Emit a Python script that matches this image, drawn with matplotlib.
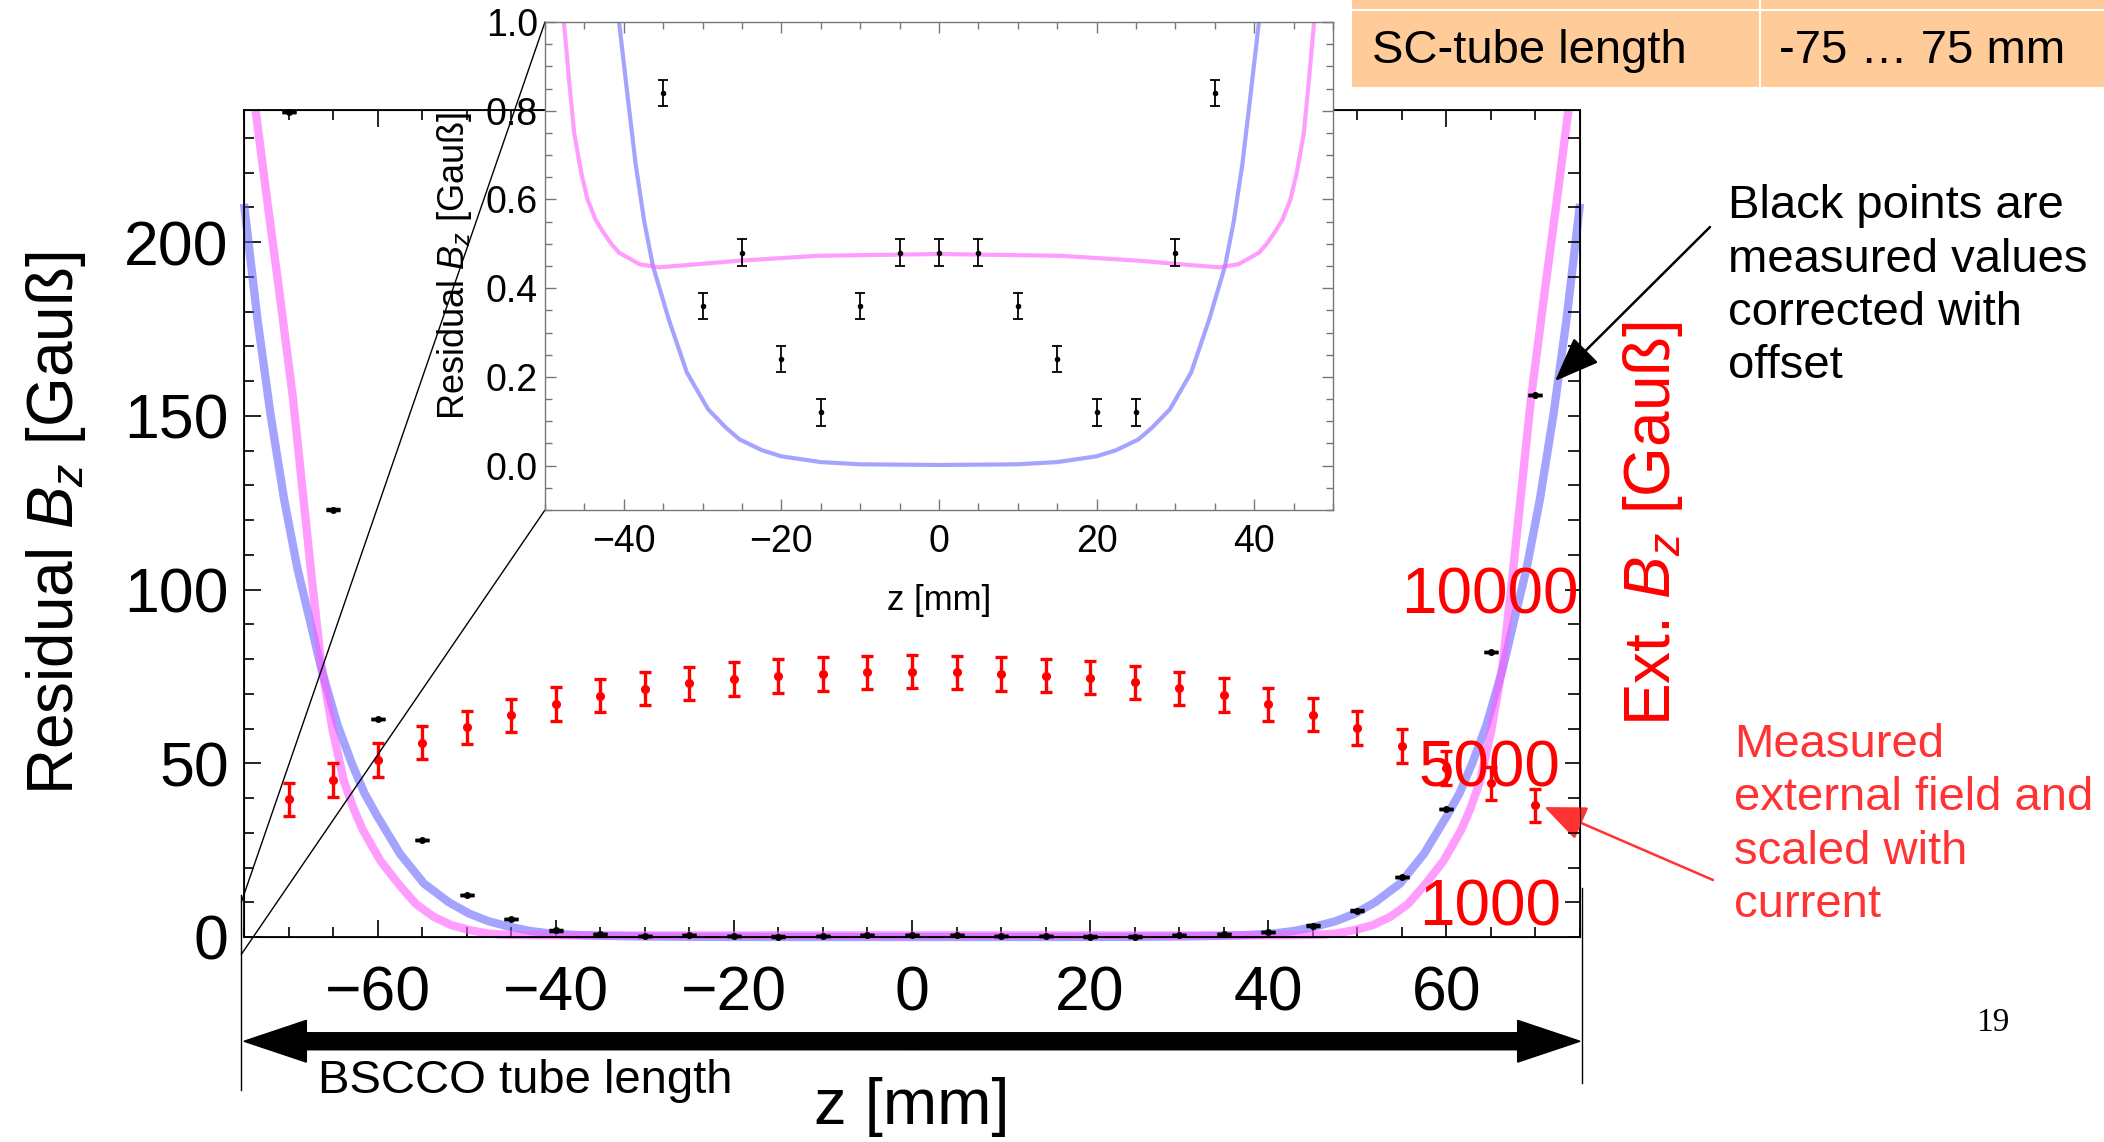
#!/usr/bin/env python
import matplotlib
matplotlib.use("Agg")
import matplotlib.pyplot as plt
from matplotlib.lines import Line2D
from matplotlib.patches import Rectangle, FancyArrow, ConnectionPatch
from matplotlib.ticker import MultipleLocator

plt.rcParams["font.family"] = ["Liberation Sans", "DejaVu Sans"]
plt.rcParams["mathtext.fontset"] = "custom"
plt.rcParams["mathtext.rm"] = "Liberation Sans"
plt.rcParams["mathtext.it"] = "Liberation Sans:italic"

# measured residual Bz (black points) [Gauss]
z_meas = [-70, -65, -60, -55, -50, -45, -40, -35, -30, -25, -20, -15, -10, -5, 0,
          5, 10, 15, 20, 25, 30, 35, 40, 45, 50, 55, 60, 65, 70]
res_bz = [237.5, 123.0, 62.7, 27.9, 12.0, 5.1, 1.9, 0.84, 0.36, 0.48, 0.24, 0.12, 0.36, 0.48, 0.48,
          0.48, 0.36, 0.24, 0.12, 0.12, 0.48, 0.84, 1.4, 3.3, 7.6, 17.3, 36.8, 82.0, 156.0]
res_err = 0.03

# measured external field scaled with current (red points) [Gauss]
ext_bz = [3960, 4520, 5090, 5590, 6030, 6380, 6710, 6950, 7150, 7300, 7430, 7510, 7570, 7620, 7640,
          7620, 7570, 7520, 7460, 7330, 7160, 6960, 6700, 6400, 6010, 5500, 4860, 4420, 3790]
ext_err = 480

# model curves
z_blue = [-75, -73.5, -72, -70.5, -69, -67.5, -66.3, -64.5, -62.9, -61.5, -60, -57.5, -54.8, -52,
          -49.7, -47.5, -45.1, -42.8, -40.6, -39.5, -38.5, -37.4, -36.3, -34.3, -32, -29.3, -27,
          -25.3, -22.5, -20, -15, -10, 0, 10, 15, 20, 22.5, 25.3, 27, 29.3, 32, 34.3, 36.3, 37.4,
          38.5, 39.5, 40.6, 42.8, 45.1, 47.5, 49.7, 52, 54.8, 57.5, 60, 61.5, 62.9, 64.5, 66.3,
          67.5, 69, 70.5, 72, 73.5, 75]
blue_bz = [211, 178, 150, 126, 106, 90, 77, 61, 50, 41.5, 34.6, 24, 15.4, 10,
           6.7, 4.5, 2.9, 1.7, 1.0, 0.83, 0.68, 0.55, 0.45, 0.33, 0.21, 0.127, 0.085,
           0.059, 0.035, 0.021, 0.008, 0.003, 0.0015, 0.003, 0.008, 0.021, 0.035, 0.059, 0.085,
           0.127, 0.21, 0.33, 0.45, 0.55,
           0.68, 0.83, 1.0, 1.7, 2.9, 4.5, 6.7, 10, 15.4, 24, 34.6, 41.5, 50, 61, 77,
           90, 106, 126, 150, 178, 211]

z_mag = [-73.7, -72.5, -71, -69.5, -68.4, -67.3, -66.3, -65, -63.8, -62.7, -61.7, -59.7, -57.7,
         -55.7, -53.7, -51.7, -49.7, -48.6, -47.6, -46.9, -46.3, -45.4, -44.6, -43.6, -42.6,
         -41.6, -40.6, -38.0, -35.6, -32, -25.3, -15.4, 0, 15.4, 25.3, 32, 35.6, 38.0, 40.6,
         41.6, 42.6, 43.6, 44.6, 45.4, 46.3, 46.9, 47.6, 48.6, 49.7, 51.7, 53.7, 55.7, 57.7,
         59.7, 61.7, 62.7, 63.8, 65, 66.3, 67.3, 68.4, 69.5, 71, 72.5, 73.7]
mag_bz = [238, 214, 185, 155, 128, 101, 78, 59, 45, 37, 31, 22, 15.4,
          9.5, 5.8, 3.4, 2.0, 1.45, 1.0, 0.86, 0.75, 0.66, 0.60, 0.555, 0.526,
          0.50, 0.48, 0.454, 0.447, 0.452, 0.462, 0.473, 0.477, 0.473, 0.462, 0.452, 0.447, 0.454,
          0.48, 0.50, 0.526, 0.555, 0.60, 0.66, 0.75, 0.86, 1.0, 1.45, 2.0, 3.4, 5.8, 9.5, 15.4,
          22, 31, 37, 45, 59, 78, 101, 128, 155, 185, 214, 238]

tube_ends = [-75, 75]

W, H = 2104, 1142
BLUE = "#5a5aff"
MAGENTA = "#ff5cff"


def fx(px):
    return px / W


def fy(py):
    return 1 - py / H


fig = plt.figure(figsize=(W / 100, H / 100), dpi=100)
fig.patch.set_facecolor("white")

# ---- main axes
ax = fig.add_axes([fx(244), fy(937), (1580 - 244) / W, (937 - 110) / H])
ax.plot(z_blue, blue_bz, color=BLUE, alpha=0.55, lw=6, solid_capstyle="butt", clip_on=False, zorder=2)
ax.plot(z_mag, mag_bz, color=MAGENTA, alpha=0.6, lw=6, solid_capstyle="butt", clip_on=False, zorder=2)
ax.errorbar(z_meas, res_bz, yerr=res_err, fmt="o", color="k", ms=4, capsize=5, capthick=2.5,
            elinewidth=1.5, clip_on=False, zorder=4)
ax.set_xlim(-75, 75)
ax.set_ylim(0, 238)
ax.xaxis.set_major_locator(MultipleLocator(20))
ax.xaxis.set_minor_locator(MultipleLocator(5))
ax.yaxis.set_major_locator(MultipleLocator(50))
ax.yaxis.set_minor_locator(MultipleLocator(10))
ax.tick_params(which="both", direction="in", top=True, right=False, width=1.2, color="k")
ax.tick_params(which="major", length=12)
ax.tick_params(which="minor", length=7)
ax.tick_params(axis="x", labelsize=45, pad=20)
ax.tick_params(axis="y", labelsize=45, pad=11)
for s in ax.spines.values():
    s.set_linewidth(1.3)

ax.text(-0.141, 0.5, "Residual $B_z$ [Gauß]", rotation=90, fontsize=46,
        ha="center", va="center", transform=ax.transAxes)
ax.text(0.5, -0.206, "z [mm]", fontsize=47, ha="center", va="center", transform=ax.transAxes)

# ---- right axis (external field)
ax2 = ax.twinx()
ax2.set_ylim(0, 23800)
ax2.errorbar(z_meas, ext_bz, yerr=ext_err, fmt="o", color="red", ms=5.5, capsize=4.2, capthick=2.4,
             elinewidth=2.4, zorder=5)
ax2.set_yticks([1000, 5000, 10000])
ax2.set_yticklabels(["1000", "5000", "10000"])
ax2.yaxis.set_minor_locator(MultipleLocator(1000))
ax2.tick_params(axis="y", which="both", direction="in", width=1.2, color="k",
                labelcolor="red", labelsize=46, pad=-65)
ax2.tick_params(axis="y", which="major", length=11)
ax2.tick_params(axis="y", which="minor", length=9)
for lbl in ax2.get_yticklabels():
    lbl.set_horizontalalignment("center")
ax2.text(1.055, 0.5, "Ext. $B_z$ [Gauß]", rotation=90, fontsize=46, color="red",
         ha="center", va="center", transform=ax.transAxes)

# ---- tube length arrow below the axis
zl, zr = tube_ends
for ze in tube_ends:
    ax.add_patch(FancyArrow(0, -30, ze, 0, width=4.9, head_width=12, head_length=7,
                            length_includes_head=True, color="k", clip_on=False, zorder=6))
ax.plot([zl - 0.3, zl - 0.3], [12, -44], color="k", lw=1, clip_on=False)
ax.plot([zr + 0.2, zr + 0.2], [14, -42], color="k", lw=1, clip_on=False)
ax.text(-66.7, -45, "BSCCO tube length", fontsize=34, ha="left", va="baseline")

# ---- inset
axin = fig.add_axes([fx(545), fy(510), (1333 - 545) / W, (510 - 22) / H])
axin.set_zorder(3)
axin.plot(z_blue, blue_bz, color=BLUE, alpha=0.55, lw=3)
axin.plot(z_mag, mag_bz, color=MAGENTA, alpha=0.6, lw=3)
axin.errorbar(z_meas, res_bz, yerr=res_err, fmt="o", color="k", ms=3, capsize=3.5, capthick=1.3,
              elinewidth=1.3)
axin.set_xlim(-50, 50)
axin.set_ylim(-0.1, 1.0)
axin.xaxis.set_major_locator(MultipleLocator(20))
axin.xaxis.set_minor_locator(MultipleLocator(5))
axin.yaxis.set_major_locator(MultipleLocator(0.2))
axin.yaxis.set_minor_locator(MultipleLocator(0.05))
axin.tick_params(which="both", direction="in", top=True, right=True, color="#777777", width=1)
axin.tick_params(which="major", length=8)
axin.tick_params(which="minor", length=5)
axin.tick_params(axis="x", labelsize=27, pad=10)
axin.tick_params(axis="y", labelsize=27, pad=5)
for s in axin.spines.values():
    s.set_color("#777777")
    s.set_linewidth(1)
axin.text(-0.115, 0.5, "Residual $B_z$ [Gauß]", rotation=90, fontsize=26,
          ha="center", va="center", transform=axin.transAxes)
axin.text(0.5, -0.185, "z [mm]", fontsize=25, ha="center", va="center", transform=axin.transAxes)

# zoom connector lines
for ya, yb in [(10, 1.0), (-5, -0.1)]:
    con = ConnectionPatch(xyA=(zl - 0.3, ya), coordsA=ax.transData, xyB=(-50, yb),
                          coordsB=axin.transData, color="k", lw=1)
    fig.add_artist(con)

# ---- table cell top right
fig.add_artist(Rectangle((fx(1352), fy(87)), (W - 1352) / W, 87 / H, transform=fig.transFigure,
                         facecolor="#ffcc99", edgecolor="none"))
fig.add_artist(Line2D([fx(1760), fx(1760)], [fy(0), fy(87)], transform=fig.transFigure,
                      color="white", lw=1.5))
fig.add_artist(Line2D([fx(1352), 1], [fy(10), fy(10)], transform=fig.transFigure,
                      color="white", lw=1.5))
fig.text(fx(1372), fy(63), "SC-tube length", fontsize=34, ha="left", va="baseline")
fig.text(fx(1779), fy(63), "-75 … 75 mm", fontsize=34, ha="left", va="baseline")

# ---- annotations
black_note = ["Black points are", "measured values", "corrected with", "offset"]
for i, line in enumerate(black_note):
    fig.text(fx(1728), fy(218 + 53.5 * i), line, fontsize=34, ha="left", va="baseline")
ax.annotate("", xy=(72.2, 160), xycoords="data", xytext=(fx(1710), fy(227)),
            textcoords="figure fraction", annotation_clip=False,
            arrowprops=dict(arrowstyle="-|>,head_length=28,head_width=11", mutation_scale=1,
                            color="k", lw=1.8, shrinkA=0, shrinkB=0))

red_note = ["Measured", "external field and", "scaled with", "current"]
for i, line in enumerate(red_note):
    fig.text(fx(1734), fy(757 + 53.3 * i), line, fontsize=34, color="#ff3333",
             ha="left", va="baseline")
ax.annotate("", xy=(71.0, 37.4), xycoords="data", xytext=(fx(1713), fy(880)),
            textcoords="figure fraction", annotation_clip=False,
            arrowprops=dict(arrowstyle="-|>,head_length=26,head_width=11", mutation_scale=1,
                            color="#ff3333", lw=1.8, shrinkA=0, shrinkB=0))

fig.text(fx(1993), fy(1023), "19", family="Liberation Serif", fontsize=24, ha="center", va="center")

fig.savefig("out.png", dpi=100)
